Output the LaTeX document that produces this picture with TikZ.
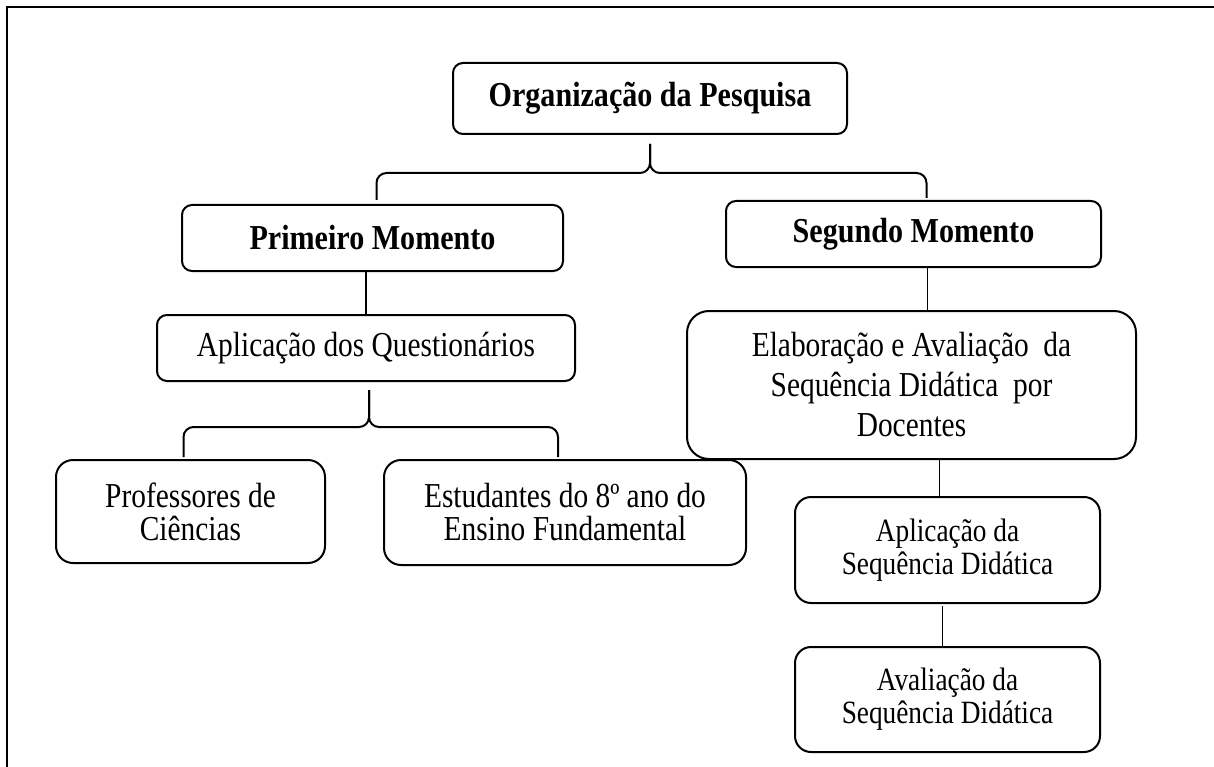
\documentclass[tikz,border=0pt]{standalone}
\usepackage{fontspec}
\setmainfont{Liberation Serif}[FakeStretch=0.84,BoldFeatures={FakeStretch=0.86}]
\usepackage{tikz}
\usetikzlibrary{positioning,calc}

\tikzset{
  caixa/.style={draw,line width=2pt,rounded corners=10pt,align=center,inner sep=0pt,
    font=\fontsize{35}{33}\selectfont},
  titulo/.style={caixa,font=\fontsize{35}{34}\selectfont\bfseries},
  ligacao/.style={line width=1.3pt},
  chave/.style={line width=2pt,rounded corners=10pt},
}

\begin{document}
\begin{tikzpicture}[x=1pt,y=-1pt]
  \useasboundingbox (0,0) rectangle (1214,767);
  \draw[line width=2.3pt] (7,790) -- (7,7) -- (1240,7);

  \node[titulo,minimum width=394pt,minimum height=71pt] (org) at (650,98.5) {Organização da Pesquisa};
  \node[titulo,minimum width=381pt,minimum height=66pt] (prim) at (372.5,238) {Primeiro Momento};
  \node[titulo,minimum width=375pt,minimum height=66pt] (seg) at (913.5,234) {Segundo Momento};
  \node[caixa,minimum width=418pt,minimum height=66pt] (quest) at (366,348) {Aplicação dos Questionários};
  \node[caixa,rounded corners=17pt,minimum width=269pt,minimum height=103pt] (prof) at (190.5,511.5) {Professores de\\Ciências};
  \node[caixa,rounded corners=17pt,minimum width=362pt,minimum height=105pt] (est) at (565,512.5) {Estudantes do 8º ano do\\Ensino Fundamental};
  \node[caixa,rounded corners=22pt,minimum width=449pt,minimum height=148pt,
    font=\fontsize{35}{40}\selectfont] (elab) at (911.5,385) {Elaboração e Avaliação\ \ da\\Sequência Didática\ \ por\\Docentes};
  \node[caixa,rounded corners=16pt,minimum width=305pt,minimum height=106pt,
    font=\fontsize{32.5}{33}\selectfont] (apsd) at (947.5,550) {Aplicação da\\Sequência Didática};
  \node[caixa,rounded corners=16pt,minimum width=305pt,minimum height=105pt,
    font=\fontsize{32.5}{33}\selectfont] (avsd) at (947.5,699.5) {Avaliação da\\Sequência Didática};

  % chaves
  \coordinate (h1) at ([yshift=-38pt]org.south);
  \draw[chave] ([yshift=-9pt]org.south) -- (h1) -- ([xshift=4pt]h1 -| prim.north) -- ([xshift=4pt,yshift=4pt]prim.north);
  \draw[chave] ([yshift=-9pt]org.south) -- (h1) -- ([xshift=13pt]h1 -| seg.north) -- ([xshift=13pt,yshift=2pt]seg.north);
  \coordinate (h2) at ([xshift=3pt,yshift=-45pt]quest.south);
  \draw[chave] ([xshift=3pt,yshift=-8pt]quest.south) -- (h2) -- ([xshift=-7pt]h2 -| prof.north) -- ([xshift=-7pt,yshift=2pt]prof.north);
  \draw[chave] ([xshift=3pt,yshift=-8pt]quest.south) -- (h2) -- ([xshift=-7pt]h2 -| est.north) -- ([xshift=-7pt,yshift=2pt]est.north);

  % ligacoes
  \draw[ligacao] (quest.north) -- (quest.north |- prim.south);
  \draw[ligacao] ([xshift=14pt]seg.south) -- ([xshift=14pt]seg.south |- elab.north);
  \draw[ligacao] ([xshift=-8pt]apsd.north) -- ([xshift=-8pt]apsd.north |- elab.south);
  \draw[ligacao] ([xshift=-5pt]avsd.north) -- ([xshift=-5pt,yshift=-2pt]avsd.north |- apsd.south);
\end{tikzpicture}
\end{document}
